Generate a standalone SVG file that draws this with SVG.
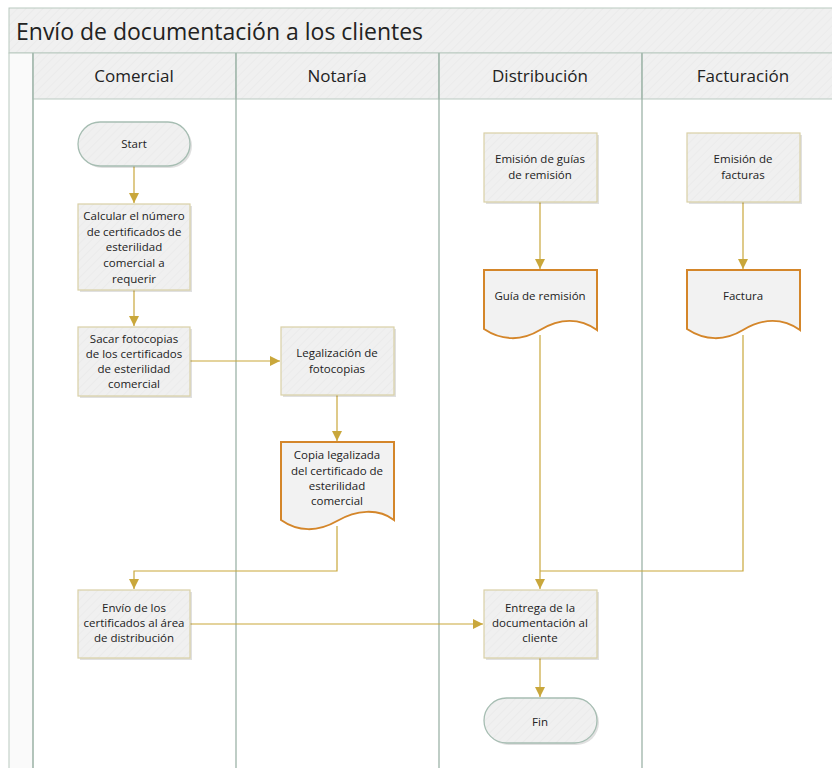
<svg xmlns="http://www.w3.org/2000/svg" width="832" height="768" viewBox="0 0 832 768">
<defs>
<pattern id="hatch" width="6" height="6" patternUnits="userSpaceOnUse" patternTransform="rotate(45)">
<rect width="6" height="6" fill="#f0f0f0"/>
<line x1="0" y1="0" x2="0" y2="6" stroke="#e8e8e8" stroke-width="1.2"/>
</pattern>
<marker id="arr" viewBox="0 0 10 10" refX="10" refY="5" markerWidth="10" markerHeight="10" markerUnits="userSpaceOnUse" orient="auto">
<path d="M0,0 L10,5 L0,10 Z" fill="#c9a73b"/>
</marker>
</defs>
<style>
.lane{stroke:#9db3a8;stroke-width:1.3;fill:none}
.hdr{fill:url(#hatch);stroke:#b9c9c0;stroke-width:1}
.box{fill:url(#hatch);stroke:#d9d0a6;stroke-width:1.2}
.shadow{fill:#000;opacity:0.12}
.doc{fill:#f2f2f2;stroke:#d4862a;stroke-width:2}
.term{fill:url(#hatch);stroke:#a6bdb2;stroke-width:1.3}
.c{fill:none;stroke:#c9a73b;stroke-width:1.2}
text{font-family:"Open Sans","Noto Sans","DejaVu Sans",sans-serif;fill:#222}
.t{font-size:11.5px;text-anchor:middle}
.h{font-size:17px;text-anchor:middle}
.title{font-size:23px}
</style>
<rect x="0" y="0" width="832" height="768" fill="#ffffff"/>
<g id="pool">
<rect class="hdr" x="9" y="8" width="840" height="45"/>
<text class="title" x="16" y="40">Envío de documentación a los clientes</text>
<rect x="9" y="53" width="24" height="720" fill="#fafafa" stroke="#b9c9c0" stroke-width="1"/>
<rect class="hdr" x="33" y="53" width="203" height="46"/>
<rect class="hdr" x="236" y="53" width="203" height="46"/>
<rect class="hdr" x="439" y="53" width="203" height="46"/>
<rect class="hdr" x="642" y="53" width="203" height="46"/>
<text class="h" x="134" y="82">Comercial</text>
<text class="h" x="337" y="82">Notaría</text>
<text class="h" x="540" y="82">Distribución</text>
<text class="h" x="743" y="82">Facturación</text>
<line class="lane" x1="33" y1="53" x2="33" y2="768"/>
<line class="lane" x1="236" y1="53" x2="236" y2="768"/>
<line class="lane" x1="439" y1="53" x2="439" y2="768"/>
<line class="lane" x1="642" y1="53" x2="642" y2="768"/>
</g>
<g id="connectors">
<path class="c" d="M134,166 V203" marker-end="url(#arr)"/>
<path class="c" d="M134,290 V326" marker-end="url(#arr)"/>
<path class="c" d="M190,361 H280" marker-end="url(#arr)"/>
<path class="c" d="M337,395 V441" marker-end="url(#arr)"/>
<path class="c" d="M337,526 V571 H134 V589" marker-end="url(#arr)"/>
<path class="c" d="M540,202 V269" marker-end="url(#arr)"/>
<path class="c" d="M540,335 V589" marker-end="url(#arr)"/>
<path class="c" d="M743,202 V269" marker-end="url(#arr)"/>
<path class="c" d="M743,335 V571 H540"/>
<path class="c" d="M190,624 H483" marker-end="url(#arr)"/>
<path class="c" d="M540,658 V697" marker-end="url(#arr)"/>
</g>
<g id="start">
<rect class="shadow" x="80" y="124" width="112" height="44" rx="22"/>
<rect class="term" x="78" y="122" width="112" height="44" rx="22"/>
<text class="t" x="134" y="148">Start</text>
</g>
<g id="calcular">
<rect class="shadow" x="80" y="206" width="112" height="86"/>
<rect class="box" x="78" y="204" width="112" height="86"/>
<text class="t" x="134" y="220">Calcular el número</text>
<text class="t" x="134" y="236">de certificados de</text>
<text class="t" x="134" y="251">esterilidad</text>
<text class="t" x="134" y="267">comercial a</text>
<text class="t" x="134" y="283">requerir</text>
</g>
<g id="sacar">
<rect class="shadow" x="80" y="329" width="112" height="69"/>
<rect class="box" x="78" y="327" width="112" height="69"/>
<text class="t" x="134" y="343">Sacar fotocopias</text>
<text class="t" x="134" y="358">de los certificados</text>
<text class="t" x="134" y="373">de esterilidad</text>
<text class="t" x="134" y="388">comercial</text>
</g>
<g id="legalizacion">
<rect class="shadow" x="283" y="329" width="113" height="68"/>
<rect class="box" x="281" y="327" width="113" height="68"/>
<text class="t" x="337" y="357">Legalización de</text>
<text class="t" x="337" y="373">fotocopias</text>
</g>
<g id="copia">
<path class="doc" d="M281,442 H394 V520 C378,508 356,510 337,521 C318,532 298,532 281,520 Z"/>
<text class="t" x="337" y="459">Copia legalizada</text>
<text class="t" x="337" y="475">del certificado de</text>
<text class="t" x="337" y="490">esterilidad</text>
<text class="t" x="337" y="505">comercial</text>
</g>
<g id="guias">
<rect class="shadow" x="486" y="135" width="113" height="69"/>
<rect class="box" x="484" y="133" width="113" height="69"/>
<text class="t" x="540" y="163">Emisión de guías</text>
<text class="t" x="540" y="179">de remisión</text>
</g>
<g id="guia">
<path class="doc" d="M484,270 H597 V330 C580,318 560,318 540,330 C522,341 502,341 484,329 Z"/>
<text class="t" x="540" y="300">Guía de remisión</text>
</g>
<g id="emision-facturas">
<rect class="shadow" x="689" y="135" width="113" height="69"/>
<rect class="box" x="687" y="133" width="113" height="69"/>
<text class="t" x="743" y="163">Emisión de</text>
<text class="t" x="743" y="179">facturas</text>
</g>
<g id="factura">
<path class="doc" d="M687,270 H800 V330 C783,318 763,318 743,330 C725,341 705,341 687,329 Z"/>
<text class="t" x="743" y="300">Factura</text>
</g>
<g id="envio">
<rect class="shadow" x="80" y="592" width="112" height="68"/>
<rect class="box" x="78" y="590" width="112" height="68"/>
<text class="t" x="134" y="612">Envío de los</text>
<text class="t" x="134" y="627">certificados al área</text>
<text class="t" x="134" y="642">de distribución</text>
</g>
<g id="entrega">
<rect class="shadow" x="486" y="592" width="113" height="68"/>
<rect class="box" x="484" y="590" width="113" height="68"/>
<text class="t" x="540" y="612">Entrega de la</text>
<text class="t" x="540" y="627">documentación al</text>
<text class="t" x="540" y="642">cliente</text>
</g>
<g id="fin">
<rect class="shadow" x="486" y="700" width="113" height="45" rx="22.5"/>
<rect class="term" x="484" y="698" width="113" height="45" rx="22.5"/>
<text class="t" x="540" y="726">Fin</text>
</g>
</svg>
